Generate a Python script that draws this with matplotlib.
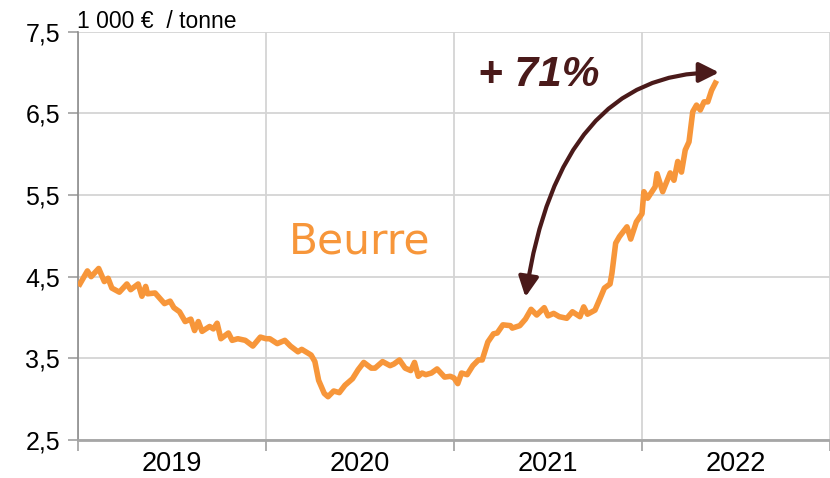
import numpy as np
import matplotlib
matplotlib.use('Agg')
import matplotlib.pyplot as plt
from matplotlib.path import Path
from matplotlib.patches import FancyArrowPatch

plt.rcParams['font.family'] = ['Liberation Sans', 'DejaVu Sans']

# ---- 数据：时间（年份小数）与黄油价格（千欧元/吨）----
t = [2019.01, 2019.05, 2019.07, 2019.11, 2019.14, 2019.16, 2019.18, 2019.22,
     2019.26, 2019.28, 2019.32, 2019.34, 2019.36, 2019.37, 2019.41, 2019.46,
     2019.49, 2019.51, 2019.54, 2019.57, 2019.60, 2019.62, 2019.64, 2019.66,
     2019.70, 2019.72, 2019.74, 2019.76, 2019.80, 2019.82, 2019.85, 2019.89,
     2019.93, 2019.97, 2020.00, 2020.02, 2020.06, 2020.10, 2020.13, 2020.17,
     2020.19, 2020.24, 2020.26, 2020.28, 2020.31, 2020.33, 2020.36, 2020.39,
     2020.42, 2020.46, 2020.49, 2020.52, 2020.56, 2020.58, 2020.62, 2020.66,
     2020.68, 2020.71, 2020.74, 2020.77, 2020.79, 2020.81, 2020.83, 2020.85,
     2020.88, 2020.91, 2020.95, 2020.98, 2021.00, 2021.02, 2021.04, 2021.07,
     2021.10, 2021.13, 2021.15, 2021.18, 2021.21, 2021.23, 2021.26, 2021.30,
     2021.31, 2021.35, 2021.38, 2021.41, 2021.44, 2021.48, 2021.50, 2021.53,
     2021.56, 2021.60, 2021.63, 2021.67, 2021.69, 2021.71, 2021.75, 2021.78,
     2021.80, 2021.83, 2021.84, 2021.86, 2021.88, 2021.92, 2021.94, 2021.97,
     2022.00, 2022.01, 2022.03, 2022.07, 2022.08, 2022.11, 2022.15, 2022.17,
     2022.19, 2022.21, 2022.23, 2022.25, 2022.27, 2022.29, 2022.31, 2022.33,
     2022.35, 2022.37, 2022.39]
price = [4.41, 4.57, 4.50, 4.60, 4.44, 4.48, 4.36, 4.31,
         4.41, 4.34, 4.41, 4.26, 4.38, 4.29, 4.30, 4.17,
         4.20, 4.12, 4.07, 3.95, 3.98, 3.84, 3.95, 3.83,
         3.89, 3.86, 3.93, 3.74, 3.81, 3.72, 3.74, 3.72,
         3.65, 3.76, 3.74, 3.74, 3.68, 3.72, 3.65, 3.58,
         3.61, 3.54, 3.46, 3.23, 3.07, 3.03, 3.10, 3.08,
         3.17, 3.25, 3.36, 3.45, 3.38, 3.38, 3.46, 3.41,
         3.43, 3.48, 3.38, 3.35, 3.45, 3.28, 3.32, 3.30,
         3.32, 3.37, 3.27, 3.28, 3.26, 3.19, 3.32, 3.30,
         3.41, 3.48, 3.48, 3.70, 3.80, 3.81, 3.91, 3.90,
         3.87, 3.90, 3.98, 4.10, 4.03, 4.12, 4.02, 4.05,
         4.01, 3.99, 4.07, 4.01, 4.13, 4.04, 4.09, 4.25,
         4.36, 4.41, 4.54, 4.91, 4.99, 5.11, 4.96, 5.17,
         5.27, 5.54, 5.46, 5.60, 5.76, 5.54, 5.77, 5.68,
         5.91, 5.78, 6.05, 6.15, 6.52, 6.60, 6.54, 6.64,
         6.64, 6.78, 6.87]

years = [2019, 2020, 2021, 2022]
y_ticks = [2.5, 3.5, 4.5, 5.5, 6.5, 7.5]
y_labels = ['2,5', '3,5', '4,5', '5,5', '6,5', '7,5']

orange = '#F7963A'
brown = '#4A1A1A'

fig = plt.figure(figsize=(8.3, 4.78), dpi=100)
ax = fig.add_axes([78 / 830, 38 / 478, 752 / 830, 408.4 / 478])

ax.plot(t, price, color=orange, linewidth=4.0, solid_joinstyle='round', zorder=3)

ax.set_xlim(2019, 2022.96)
ax.set_ylim(2.5, 7.5)

# 坐标轴刻度
ax.set_xticks(years + [2023])
ax.set_xticklabels([])
ax.set_xticks([y + 0.5 for y in years], minor=True)
ax.set_xticklabels([str(y) for y in years], minor=True, fontsize=19.5)
ax.tick_params(axis='x', which='major', length=8, color='#a0a0a0', width=1.2)
ax.tick_params(axis='x', which='minor', length=0, pad=8)
ax.set_yticks(y_ticks)
ax.set_yticklabels(y_labels, fontsize=18)
ax.tick_params(axis='y', length=7, color='#a0a0a0', width=1.2, pad=6)

ax.grid(True, which='major', color='#d4d4d4', linewidth=1.3, zorder=0)
ax.set_axisbelow(True)
for s in ['top', 'right']:
    ax.spines[s].set_visible(False)
ax.spines['left'].set_color('#8c8c8c')
ax.spines['left'].set_linewidth(1.2)
ax.spines['bottom'].set_color('#a6a6a6')
ax.spines['bottom'].set_linewidth(2)

# 文本
fig.text(77 / 830, 1 - 10 / 478, '1 000 €  / tonne', fontsize=16.5, va='top', ha='left')
ax.text(2020.50, 4.93, 'Beurre', color=orange, fontsize=30.5, family='DejaVu Sans',
        ha='center', va='center')
ax.text(2021.13, 6.97, '+ 71%', color=brown, fontsize=30.5, fontweight='bold',
        fontstyle='italic', ha='left', va='center')

# 双向弯曲箭头
verts = [(2022.41, 7.00), (2021.56, 7.00), (2021.38, 4.25)]
arc = Path(verts, [Path.MOVETO, Path.CURVE3, Path.CURVE3])
arrow = FancyArrowPatch(path=arc, arrowstyle='<|-|>,head_length=12,head_width=6',
                        color=brown, linewidth=3.0, transform=ax.transData,
                        shrinkA=0, shrinkB=0, zorder=4)
ax.add_patch(arrow)

fig.savefig('out.png', dpi=100)
